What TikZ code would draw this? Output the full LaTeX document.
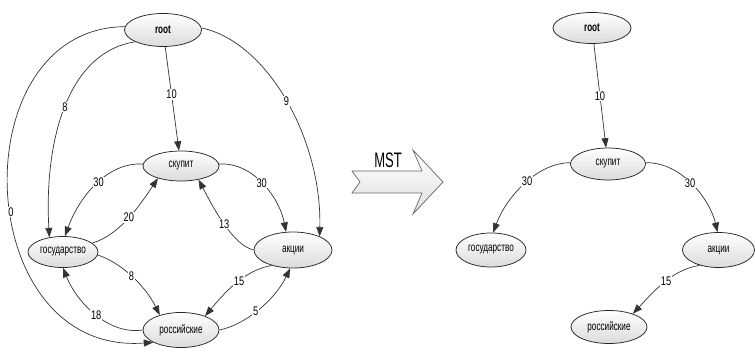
\documentclass[tikz,border=0pt]{standalone}
\usepackage{fontspec}
\setmainfont{Liberation Sans}[FakeStretch=0.68]
\newfontfamily\numfont{Liberation Sans}[FakeStretch=0.74]
\newfontfamily\mstfont{Liberation Sans}[FakeStretch=0.62]
\usetikzlibrary{shapes.geometric,arrows.meta}

\begin{document}
\begin{tikzpicture}[x=1pt,y=-1pt,
  vertex/.style={ellipse, draw=black!85, line width=0.75pt, top color=white,
    bottom color=black!14, inner sep=0pt, font=\fontsize{12}{12}\selectfont},
  rootv/.style={vertex, font=\fontsize{12}{12}\selectfont\bfseries},
  link/.style={draw=black!80, line width=0.7pt,
    -{Triangle[length=9.5pt,width=7pt]}},
  wt/.style={fill=white, inner sep=0.8pt, font=\fontsize{12.5}{12.5}\selectfont\numfont},
]
\useasboundingbox (0,0) rectangle (755,353);

% ---------- full graph ----------
\node[rootv, minimum width=77pt, minimum height=33pt] (lroot) at (163,30) {root};
\node[vertex, minimum width=76pt, minimum height=30pt] (lsk) at (181,166) {скупит};
\node[vertex, minimum width=70pt, minimum height=31pt] (lgos) at (63,252) {государство};
\node[vertex, minimum width=78pt, minimum height=36pt] (lak) at (293,250) {акции};
\node[vertex, minimum width=76pt, minimum height=35pt] (lros) at (181,330) {российские};

\draw[link] (lroot) -- node[wt, pos=0.46] {10} (lsk);
\draw[link] (lroot.203) .. controls (68,52) and (44,140) .. node[wt, pos=0.5] {8} (lgos.133);
\draw[link] (lroot.3) .. controls (268,42) and (322,140) .. node[wt, pos=0.5] {9} (lak.27);
\draw[link] (lroot.175) .. controls (-40,28) and (-30,356) .. node[wt, pos=0.545] {0} (lros.204);
\draw[link] (lsk.177) .. controls (105,162) and (78,200) .. node[wt, pos=0.45] {30} (lgos.83);
\draw[link] (lgos.17) .. controls (120,235) and (140,205) .. node[wt, pos=0.5] {20} (lsk.208);
\draw[link] (lsk.3) .. controls (255,162) and (280,200) .. node[wt, pos=0.47] {30} (lak.111);
\draw[link] (lak.180) .. controls (232,245) and (212,205) .. node[wt, pos=0.48] {13} (lsk.322);
\draw[link] (lgos.355) .. controls (120,262) and (145,285) .. node[wt, pos=0.5] {8} (lros.145);
\draw[link] (lros.180) .. controls (110,335) and (78,305) .. node[wt, pos=0.5] {18} (lgos.270);
\draw[link] (lak.216) .. controls (245,270) and (225,292) .. node[wt, pos=0.45] {15} (lros.30);
\draw[link] (lros.0) .. controls (245,325) and (275,300) .. node[wt, pos=0.46] {5} (lak.261);

% ---------- MST arrow ----------
\path[draw=black!60, line width=0.7pt, top color=white, bottom color=black!12]
  (352,171) -- (422,171) -- (413,150) -- (443,182) -- (413,214) -- (422,193)
  -- (352,193) -- (360,182) -- cycle;
\node[font=\fontsize{21}{21}\selectfont\mstfont, inner sep=0pt] (mst) at (388,160) {MST};

% ---------- spanning tree ----------
\node[rootv, minimum width=78pt, minimum height=31pt] (rroot) at (592,28) {root};
\node[vertex, minimum width=75pt, minimum height=32pt] (rsk) at (608,164) {скупит};
\node[vertex, minimum width=70pt, minimum height=34pt] (rgos) at (491,250) {государство};
\node[vertex, minimum width=72pt, minimum height=35pt] (rak) at (718.5,250) {акции};
\node[vertex, minimum width=76pt, minimum height=33pt] (rros) at (609,327) {российские};

\draw[link] (rroot) -- node[wt, pos=0.5] {10} (rsk);
\draw[link] (rsk.178) .. controls (535,163) and (505,200) .. node[wt, pos=0.45] {30} (rgos.83);
\draw[link] (rsk.2) .. controls (682,162) and (710,200) .. node[wt, pos=0.47] {30} (rak.93);
\draw[link] (rak.219) .. controls (672,270) and (655,290) .. node[wt, pos=0.47] {15} (rros.29);
\end{tikzpicture}
\end{document}
